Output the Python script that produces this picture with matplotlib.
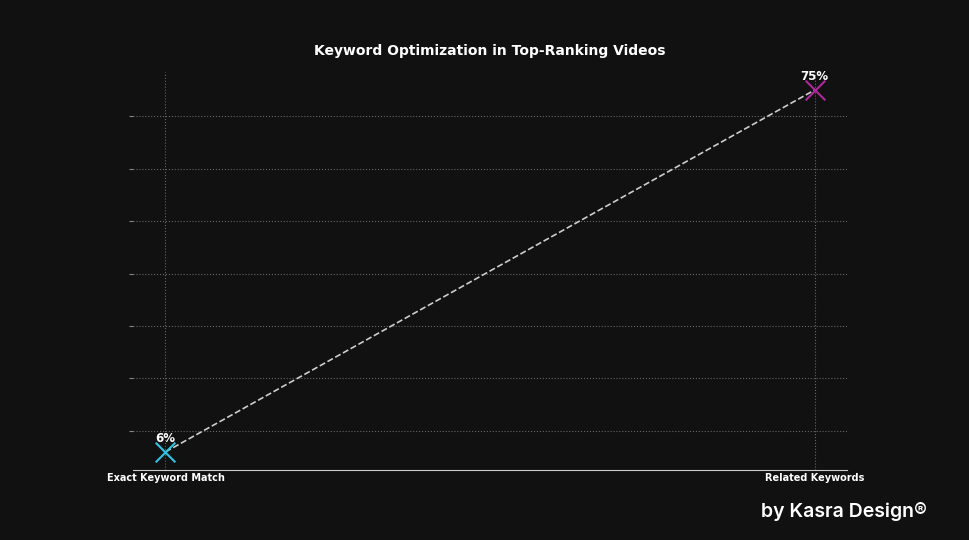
import matplotlib
matplotlib.use("Agg")
import matplotlib.pyplot as plt

categories = ["Exact Keyword Match", "Related Keywords"]
values = [6, 75]
colors = ["#29c5e6", "#b0269e"]

bg = "#111111"
fig = plt.figure(figsize=(9.7, 5.4), dpi=100, facecolor=bg)
ax = fig.add_axes([133/970, 1-470/540, 714/970, 398/540], facecolor=bg)
x = list(range(len(categories)))
ax.plot(x, values, ls="--", color="#cccccc", lw=1.2, zorder=2)
for xi, v, c in zip(x, values, colors):
    ax.scatter([xi], [v], marker="x", s=200, color=c, lw=1.5, zorder=3)
    ax.annotate(f"{v}%", (xi, v), xytext=(0, 5), textcoords="offset points",
                ha="center", va="bottom", color="white", fontsize=8.5, fontweight="bold")
ax.set_xticks(x)
ax.set_xticklabels(categories, color="white", fontsize=7, fontweight="bold")
ax.set_yticks(range(10, 80, 10))
ax.set_yticklabels([])
ax.grid(True, color="#666666", ls=":", lw=0.8)
for s in ["top", "right", "left"]:
    ax.spines[s].set_visible(False)
ax.spines["bottom"].set_color("#cccccc")
ax.tick_params(axis="x", length=0, pad=2)
ax.tick_params(axis="y", length=3, color="#888888")
ax.set_title("Keyword Optimization in Top-Ranking Videos", color="white",
             fontsize=10, fontweight="bold", pad=12.5)
fig.text(927/970, 1-511/540, "by Kasra Design®", color="white", fontsize=14,
         ha="right", va="center", family="Inter", fontweight="semibold")
fig.savefig("out.png", facecolor=bg)
